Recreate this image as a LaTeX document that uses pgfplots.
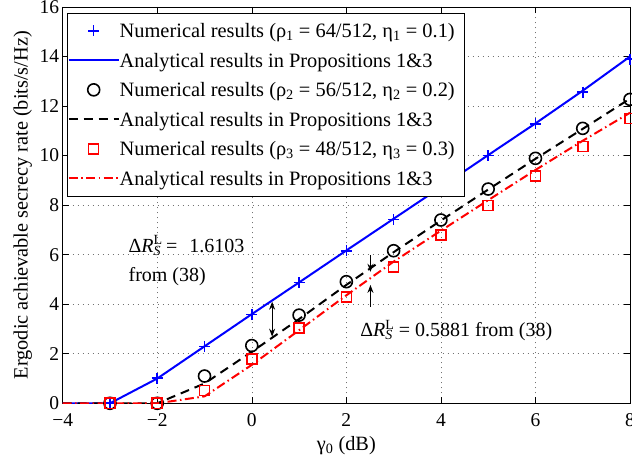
\documentclass[border=0pt]{standalone}
\usepackage{pgfplots}
\pgfplotsset{compat=1.18}
\usepackage{fontspec}
\setmainfont{Liberation Serif}
\usetikzlibrary{arrows.meta}
\newcommand\f{\fontsize{19.5}{23}\selectfont}
\newcommand\fa{\fontsize{20}{24}\selectfont}
\begin{document}
\begin{tikzpicture}
\begin{axis}[
 scale only axis, width=567.3pt, height=396.3pt,
 xmin=-4, xmax=8, ymin=0, ymax=16,
 xtick={-4,-2,0,2,4,6,8}, xticklabels={−4,−2,0,2,4,6,8},
 ytick={0,2,4,6,8,10,12,14,16}, yticklabels={0,2,4,6,8,10,12,14,16},
 tick align=inside, major tick length=6pt,
 tick style={black, line width=0.6pt},
 axis line style={line width=0.8pt},
 grid=major, major grid style={black!55, line width=0.6pt, dash pattern=on 1pt off 4pt},
 tick label style={font=\f},
 xticklabel style={yshift=-7pt},
 xlabel={γ\textsubscript{0} (dB)},
 ylabel={Ergodic achievable secrecy rate (bits/s/Hz)},
 label style={font=\fontsize{20.3}{24}\selectfont},
 xlabel style={at={(axis description cs:0.5,-0.1077)}, anchor=center},
 ylabel style={at={(axis description cs:-0.0705,0.5)}, anchor=center},
 legend style={at={(axis description cs:0,1)}, anchor=north west, xshift=4.6pt, yshift=-5.7pt,
   font=\fontsize{20.4}{24}\selectfont, draw=black, line width=0.8pt, fill=white,
   inner xsep=0pt, inner ysep=3pt, row sep=0pt,
   /tikz/every even column/.append style={column sep=1.5pt, nodes={inner sep=0pt, text height=21.5pt, text depth=8pt}}},
 legend cell align=left,
 legend image code/.code={\draw[mark repeat=2,mark phase=2,#1] plot coordinates {(0pt,0pt) (25pt,0pt) (50pt,0pt)};},
]
\coordinate (SW) at (rel axis cs:0,0);
\coordinate (NE) at (rel axis cs:1,1);
% legend
\addlegendimage{only marks, mark=+, mark size=5.5pt, blue, line width=1.6pt, mark options={solid, draw=blue}}
\addlegendentry{Numerical results (ρ\textsubscript{1} = 64/512, η\textsubscript{1} = 0.1)\hspace*{10pt}}
\addlegendimage{blue, line width=2pt}
\addlegendentry{Analytical results in Propositions 1\&3}
\addlegendimage{only marks, mark=o, mark size=6pt, black, line width=1.6pt, mark options={solid, draw=black}}
\addlegendentry{Numerical results (ρ\textsubscript{2} = 56/512, η\textsubscript{2} = 0.2)}
\addlegendimage{black, line width=2pt, dash pattern=on 9pt off 6pt}
\addlegendentry{Analytical results in Propositions 1\&3}
\addlegendimage{only marks, mark=square, mark size=5pt, red, line width=1.6pt, mark options={solid, draw=red}}
\addlegendentry{Numerical results (ρ\textsubscript{3} = 48/512, η\textsubscript{3} = 0.3)}
\addlegendimage{red, line width=2pt, dash pattern=on 9pt off 3.5pt on 1.5pt off 3.5pt}
\addlegendentry{Analytical results in Propositions 1\&3}
% rho1
\addplot[forget plot, only marks, mark=+, mark size=5.5pt, blue, line width=1.6pt, mark options={draw=blue}] coordinates {
(-3,0) (-2,1.02) (-1,2.3) (0,3.58) (1,4.87) (2,6.16) (3,7.42) (4,8.7) (5,10.0) (6,11.28) (7,12.56) (8,13.9)};
\addplot[forget plot, blue, line width=2pt] coordinates {
(-4,0) (-3,0) (-2,1.0) (-1,2.3) (0,3.6) (1,4.88) (2,6.17) (3,7.45) (4,8.73) (5,10.02) (6,11.3) (7,12.62) (8,14.0)};
% rho2
\addplot[forget plot, only marks, mark=o, mark size=6pt, black, line width=1.6pt, mark options={draw=black}] coordinates {
(-3,0) (-2,0) (-1,1.1) (0,2.33) (1,3.56) (2,4.91) (3,6.16) (4,7.4) (5,8.65) (6,9.89) (7,11.1) (8,12.27)};
\addplot[forget plot, black, line width=2pt, dash pattern=on 9pt off 6pt] coordinates {
(-4,0) (-3,0) (-2,0) (-1,0.8) (0,2.08) (1,3.4) (2,4.78) (3,6.1) (4,7.38) (5,8.63) (6,9.87) (7,11.08) (8,12.3)};
% rho3
\addplot[forget plot, only marks, mark=square, mark size=5pt, red, line width=1.6pt, mark options={draw=red}] coordinates {
(-3,0) (-2,0) (-1,0.51) (0,1.78) (1,3.03) (2,4.3) (3,5.51) (4,6.79) (5,7.98) (6,9.18) (7,10.36) (8,11.5)};
\addplot[forget plot, red, line width=2pt, dash pattern=on 9pt off 3.5pt on 1.5pt off 3.5pt] coordinates {
(-4,0) (-3,0) (-2,0) (-1,0.28) (0,1.55) (1,2.95) (2,4.36) (3,5.72) (4,6.97) (5,8.2) (6,9.42) (7,10.6) (8,11.73)};
% annotations
\node[anchor=base west, font=\fa, inner sep=0pt] at (axis cs:-2.61,6.1) {Δ\textit{R}\rlap{\textsuperscript{L}}\textsubscript{\textit{S}}\hspace{5pt}=\hspace{12pt}1.6103};
\node[anchor=base west, font=\fa, inner sep=0pt] at (axis cs:-2.61,4.91) {from (38)};
\node[anchor=base west, font=\fa, inner sep=0pt] at (axis cs:2.29,2.69) {Δ\textit{R}\rlap{\textsuperscript{L}}\textsubscript{\textit{S}}\hspace{6pt}= 0.5881 from (38)};
\draw[black, line width=1pt, {Stealth[length=8pt,width=6pt]}-{Stealth[length=8pt,width=6pt]}] (axis cs:0.43,4.1) -- (axis cs:0.43,2.69);
\draw[black, line width=1pt, -{Stealth[length=8pt,width=6pt]}] (axis cs:2.51,5.99) -- (axis cs:2.51,5.31);
\draw[black, line width=1pt, -{Stealth[length=8pt,width=6pt]}] (axis cs:2.51,3.9) -- (axis cs:2.51,4.78);
\end{axis}
\pgfresetboundingbox
\path ([shift={(-62.7pt,-59.7pt)}]SW) rectangle ([shift={(2pt,7pt)}]NE);
\end{tikzpicture}
\end{document}
